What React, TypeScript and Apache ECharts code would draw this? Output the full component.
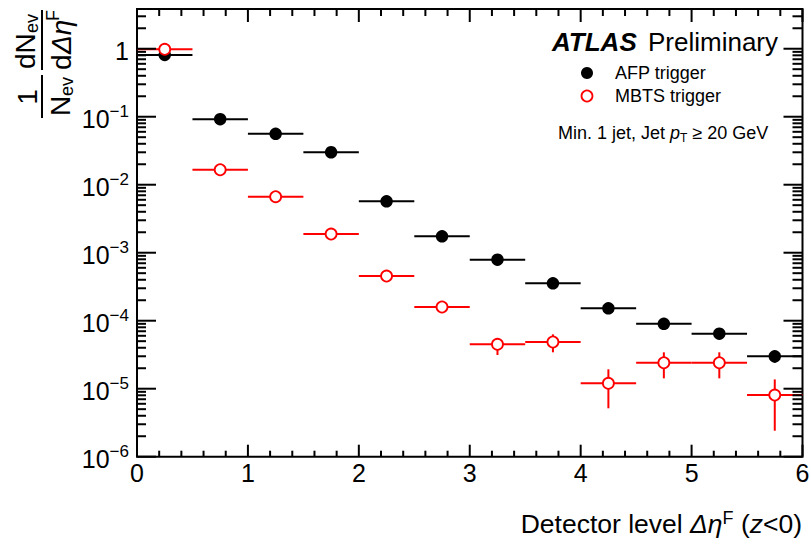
import React, { useEffect, useRef } from "react";
import * as echarts from "echarts";

// Bin centres in Δη^F and the half-width of each bin
const binCenters = [0.25, 0.75, 1.25, 1.75, 2.25, 2.75, 3.25, 3.75, 4.25, 4.75, 5.25, 5.75];
const binHalfWidth = 0.25;

// AFP-triggered sample: normalised yield, and error-bar bounds (0 = hidden under marker)
const afpValues = [0.81, 0.092, 0.056, 0.03, 0.0057, 0.00174, 0.00079, 0.000355, 0.000152, 9.0e-5, 6.45e-5, 2.99e-5];
const afpErrLow = [0, 0, 0, 0, 0, 0, 0, 0, 0, 0, 0, 2.4e-5];
const afpErrHigh = [0, 0, 0, 0, 0, 0, 0, 0, 0, 0, 0, 3.5e-5];

// MBTS-triggered sample
const mbtsValues = [0.98, 0.0166, 0.00667, 0.00188, 0.000454, 0.000159, 4.5e-5, 4.86e-5, 1.2e-5, 2.41e-5, 2.41e-5, 8.07e-6];
const mbtsErrLow = [0, 0, 0, 0, 0, 0, 3.13e-5, 3.43e-5, 5.15e-6, 1.42e-5, 1.42e-5, 2.41e-6];
const mbtsErrHigh = [0, 0, 0, 0, 0, 0, 5.3e-5, 6.3e-5, 1.93e-5, 3.43e-5, 3.43e-5, 1.37e-5];

// Axis ranges and tick marks
const xMin = 0;
const xMax = 6;
const xMajorTicks = [0, 1, 2, 3, 4, 5, 6];
const xMinorPerMajor = 5;
const yMin = 1e-6;
const yMax = 3.84;
const yDecades = [-6, -5, -4, -3, -2, -1, 0];

const FONT = "'Liberation Sans', Arial, Helvetica, sans-serif";
const BLACK = "#000000";
const RED = "#ff0000";

const xMinorTicks: number[] = [];
for (let i = 0; i < xMajorTicks.length - 1; i++) {
  const a = xMajorTicks[i];
  const b = xMajorTicks[i + 1];
  for (let k = 1; k < xMinorPerMajor; k++) xMinorTicks.push(a + ((b - a) * k) / xMinorPerMajor);
}
const yMajorTicks = yDecades.map((d) => Math.pow(10, d));
const yMinorTicks: number[] = [];
yDecades.forEach((d) => {
  for (let k = 2; k <= 9; k++) {
    const v = k * Math.pow(10, d);
    if (v < yMax) yMinorTicks.push(v);
  }
});

function errorRows(values: number[], lo: number[], hi: number[]) {
  return binCenters.map((x, i) => [x, values[i], lo[i], hi[i]]);
}

function makeErrorRenderer(color: string) {
  return (params: any, api: any) => {
    const x = api.value(0);
    const y = api.value(1);
    const lo = api.value(2);
    const hi = api.value(3);
    const p0 = api.coord([x - binHalfWidth, y]);
    const p1 = api.coord([x + binHalfWidth, y]);
    const children: any[] = [
      {
        type: "line",
        shape: { x1: p0[0], y1: p0[1], x2: p1[0], y2: p1[1] },
        style: { stroke: color, lineWidth: 2 },
      },
    ];
    if (lo > 0 && hi > 0) {
      const a = api.coord([x, hi]);
      const b = api.coord([x, lo]);
      children.push({
        type: "line",
        shape: { x1: a[0], y1: a[1], x2: b[0], y2: b[1] },
        style: { stroke: color, lineWidth: 2 },
      });
    }
    return { type: "group", children };
  };
}

// Inward ticks on all four sides of the frame
function renderFrameTicks(params: any, api: any) {
  const cs = params.coordSys;
  const left = cs.x;
  const right = cs.x + cs.width;
  const top = cs.y;
  const bottom = cs.y + cs.height;
  const children: any[] = [];
  const seg = (x1: number, y1: number, x2: number, y2: number) =>
    children.push({ type: "line", shape: { x1, y1, x2, y2 }, style: { stroke: BLACK, lineWidth: 2 } });
  xMajorTicks.forEach((v) => {
    const px = api.coord([v, 1])[0];
    seg(px, bottom, px, bottom - 12);
    seg(px, top, px, top + 13);
  });
  xMinorTicks.forEach((v) => {
    const px = api.coord([v, 1])[0];
    seg(px, bottom, px, bottom - 6);
    seg(px, top, px, top + 7);
  });
  yMajorTicks.forEach((v) => {
    const py = api.coord([1, v])[1];
    seg(left, py, left + 19, py);
    seg(right, py, right - 19, py);
  });
  yMinorTicks.forEach((v) => {
    const py = api.coord([1, v])[1];
    seg(left, py, left + 9, py);
    seg(right, py, right - 10, py);
  });
  return { type: "group", children };
}

function txt(text: string, x: number, y: number, size: number, extra: any = {}) {
  return {
    type: "text",
    x,
    y,
    style: {
      text,
      fontSize: size,
      fontFamily: FONT,
      fill: BLACK,
      align: "left",
      verticalAlign: "middle",
      textAlign: "left",
      textVerticalAlign: "middle",
      ...extra,
    },
  };
}

function buildOption(): any {
  // Vertical title: 1/N_ev · dN_ev/dΔη^F, laid out horizontally then turned a quarter turn
  const yTitle = {
    type: "group",
    x: 42,
    y: 120,
    rotation: Math.PI / 2,
    children: [
      { type: "line", shape: { x1: 2, y1: 0, x2: 45, y2: 0 }, style: { stroke: BLACK, lineWidth: 2 } },
      txt("1", 23, -15, 28, { align: "center", textAlign: "center" }),
      txt("N", 4, 18, 28),
      txt("ev", 24, 25, 18),
      { type: "line", shape: { x1: 50, y1: 0, x2: 110, y2: 0 }, style: { stroke: BLACK, lineWidth: 2 } },
      txt("dN", 51, -17, 28),
      txt("ev", 87, -10, 18),
      txt("d", 50, 19, 28),
      txt("\u0394\u03b7", 66, 19, 28, { fontStyle: "italic" }),
      txt("F", 99, 11, 18),
    ],
  };

  return {
    animation: false,
    backgroundColor: "#ffffff",
    grid: {
      left: 137,
      right: 8.5,
      top: 9,
      bottom: 87.3,
      show: true,
      borderColor: BLACK,
      borderWidth: 2,
      backgroundColor: "transparent",
      containLabel: false,
      outerBoundsMode: "none",
    },
    xAxis: {
      type: "value",
      min: xMin,
      max: xMax,
      interval: 1,
      axisLine: { show: false },
      axisTick: { show: false },
      splitLine: { show: false },
      axisLabel: { fontSize: 25, fontFamily: FONT, color: BLACK, margin: 4 },
    },
    yAxis: {
      type: "log",
      logBase: 10,
      min: yMin,
      max: yMax,
      axisLine: { show: false },
      axisTick: { show: false },
      splitLine: { show: false },
      minorTick: { show: false },
      axisLabel: {
        margin: 8,
        color: BLACK,
        fontFamily: FONT,
        fontSize: 25,
        formatter: (v: number) => {
          const e = Math.log10(v);
          const r = Math.round(e);
          if (Math.abs(e - r) > 1e-6) return "";
          if (r === 0) return "{b|1}";
          return "{b|10}{e|" + (r < 0 ? "\u2212" : "") + Math.abs(r) + "}";
        },
        rich: {
          b: { fontSize: 25, fontFamily: FONT, color: BLACK, lineHeight: 28, padding: [4, 0, 0, 0] },
          e: { fontSize: 17, fontFamily: FONT, color: BLACK, verticalAlign: "top", lineHeight: 17 },
        },
      },
    },
    graphic: [
      yTitle,
      {
        type: "text",
        x: 802,
        y: 524,
        style: {
          rich: {
            r: { fontSize: 26.5, fontFamily: FONT, fill: BLACK, lineHeight: 30 },
            i: { fontSize: 26.5, fontFamily: FONT, fill: BLACK, fontStyle: "italic", lineHeight: 30 },
            s: { fontSize: 18, fontFamily: FONT, fill: BLACK, verticalAlign: "top", lineHeight: 18 },
          },
          text: "{r|Detector level }{i|\u0394\u03b7}{s|F}{r| (}{i|z}{r|<0)}",
          align: "right",
          verticalAlign: "middle",
          textAlign: "right",
          textVerticalAlign: "middle",
        },
      },
      txt("ATLAS", 552, 42, 26, { fontWeight: "bold", fontStyle: "italic" }),
      txt("Preliminary", 648, 42, 26),
      { type: "circle", shape: { cx: 587, cy: 73, r: 6 }, style: { fill: BLACK } },
      txt("AFP trigger", 615, 73, 18),
      { type: "circle", shape: { cx: 587, cy: 96, r: 5.5 }, style: { fill: "#ffffff", stroke: RED, lineWidth: 1.8 } },
      txt("MBTS trigger", 615, 96, 18),
      {
        type: "text",
        x: 558,
        y: 133,
        style: {
          rich: {
            r: { fontSize: 18, fontFamily: FONT, fill: BLACK, lineHeight: 22 },
            i: { fontSize: 18, fontFamily: FONT, fill: BLACK, fontStyle: "italic", lineHeight: 22 },
            s: { fontSize: 12, fontFamily: FONT, fill: BLACK, verticalAlign: "bottom", lineHeight: 12 },
          },
          text: "{r|Min. 1 jet, Jet }{i|p}{s|T}{r| \u2265 20 GeV}",
          align: "left",
          verticalAlign: "middle",
          textAlign: "left",
          textVerticalAlign: "middle",
        },
      },
    ],
    series: [
      {
        type: "custom",
        name: "frame ticks",
        silent: true,
        clip: false,
        z: 5,
        data: [[1, 1]],
        encode: { x: 0, y: 1 },
        renderItem: renderFrameTicks,
      },
      {
        type: "custom",
        name: "AFP errors",
        silent: true,
        data: errorRows(afpValues, afpErrLow, afpErrHigh),
        encode: { x: 0, y: 1 },
        renderItem: makeErrorRenderer(BLACK),
      },
      {
        type: "scatter",
        name: "AFP trigger",
        symbol: "circle",
        symbolSize: 12.5,
        itemStyle: { color: BLACK, opacity: 1 },
        data: binCenters.map((x, i) => [x, afpValues[i]]),
      },
      {
        type: "custom",
        name: "MBTS errors",
        silent: true,
        data: errorRows(mbtsValues, mbtsErrLow, mbtsErrHigh),
        encode: { x: 0, y: 1 },
        renderItem: makeErrorRenderer(RED),
      },
      {
        type: "scatter",
        name: "MBTS trigger",
        symbol: "circle",
        symbolSize: 11,
        itemStyle: { color: "#ffffff", borderColor: RED, borderWidth: 1.8, opacity: 1 },
        data: binCenters.map((x, i) => [x, mbtsValues[i]]),
      },
    ],
  };
}

export default function App() {
  const ref = useRef<HTMLDivElement>(null);
  useEffect(() => {
    if (!ref.current) return;
    const chart = echarts.init(ref.current, null, { renderer: "svg" });
    chart.setOption(buildOption());
    return () => chart.dispose();
  }, []);
  return (
    <div
      ref={ref}
      style={{ position: "fixed", left: 0, top: 0, width: 811, height: 544, background: "#ffffff" }}
    />
  );
}
